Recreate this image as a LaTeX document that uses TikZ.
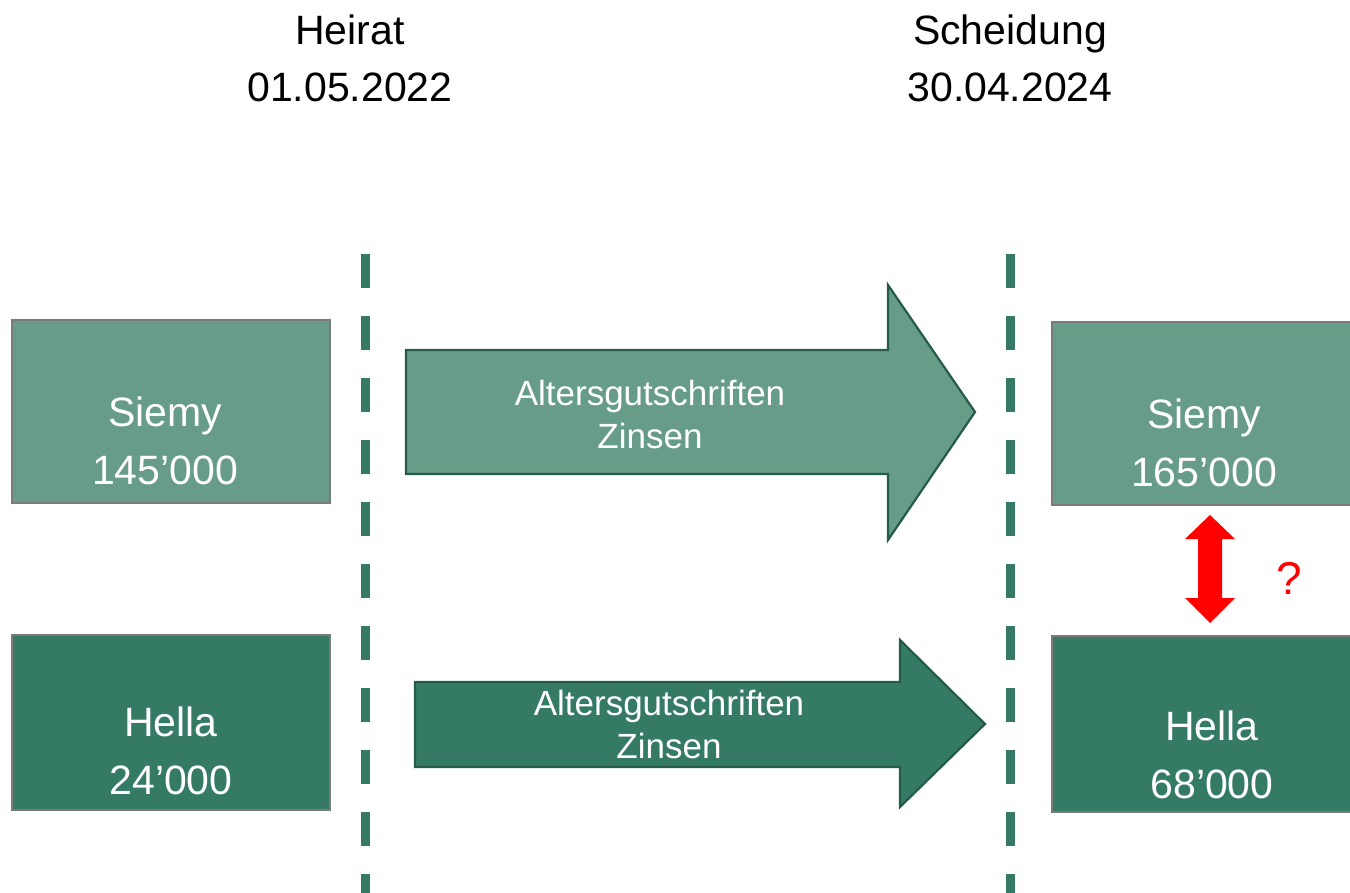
\documentclass[tikz,border=0pt]{standalone}
\usepackage{fontspec}
\setmainfont{Liberation Sans}
\definecolor{lightgreen}{HTML}{679C89}
\definecolor{darkgreen}{HTML}{357A64}
\definecolor{edgegreen}{HTML}{245C48}
\definecolor{boxedge}{HTML}{7A7A7A}
\tikzset{
  account/.style={draw=boxedge, line width=1.5pt},
  flow/.style={draw=edgegreen, line width=2.2pt, line join=miter},
  datetext/.style={align=center, font=\fontsize{41}{57}\selectfont, text=black},
  nametext/.style={align=center, font=\fontsize{41}{58}\selectfont, text=white},
  flowtext/.style={align=center, font=\fontsize{35}{43}\selectfont, text=white},
  cutline/.style={draw=darkgreen, line width=9pt, dash pattern=on 34pt off 28pt},
}
\begin{document}
\begin{tikzpicture}[x=1pt, y=-1pt]
\useasboundingbox (0,0) rectangle (1350,893);
\clip (0,0) rectangle (1350,893);

% dates
\node[datetext] (heirat) at (350,58) {Heirat\\01.05.2022};
\node[datetext] (scheidung) at (1010,58) {Scheidung\\30.04.2024};

% date lines
\coordinate (h1) at (365,254);
\coordinate (h2) at (365,900);
\coordinate (s1) at (1010,254);
\coordinate (s2) at (1010,900);
\draw[cutline] (h1) -- (h2);
\draw[cutline] (s1) -- (s2);

% accounts at marriage
\fill[lightgreen, account] (12,320) rectangle (330,503);
\node[nametext] (siemyA) at (165,441) {Siemy\\145’000};
\fill[darkgreen, account] (12,635) rectangle (330,810);
\node[nametext] (hellaA) at (171,751) {Hella\\24’000};

% accounts at divorce
\fill[lightgreen, account] (1052,322) rectangle (1380,505);
\node[nametext] (siemyB) at (1204,443) {Siemy\\165’000};
\fill[darkgreen, account] (1052,636) rectangle (1380,812);
\node[nametext] (hellaB) at (1212,755) {Hella\\68’000};

% growth arrows
\filldraw[lightgreen, flow] (406,350) -- (888,350) -- (888,285) -- (975,412)
  -- (888,540) -- (888,474) -- (406,474) -- cycle;
\node[flowtext] (flowA) at (650,414) {Altersgutschriften\\Zinsen};
\filldraw[darkgreen, flow] (415,682) -- (900,682) -- (900,640) -- (985,724)
  -- (900,807) -- (900,767) -- (415,767) -- cycle;
\node[flowtext] (flowB) at (669,724) {Altersgutschriften\\Zinsen};

% comparison arrow
\fill[red] (1210,515) -- (1235,539) -- (1222,539) -- (1222,598) -- (1235,598)
  -- (1210,623) -- (1185,598) -- (1198,598) -- (1198,539) -- (1185,539) -- cycle;
\node[font=\fontsize{46}{52}\selectfont, text=red] (frage) at (1289,578) {?};
\end{tikzpicture}
\end{document}
